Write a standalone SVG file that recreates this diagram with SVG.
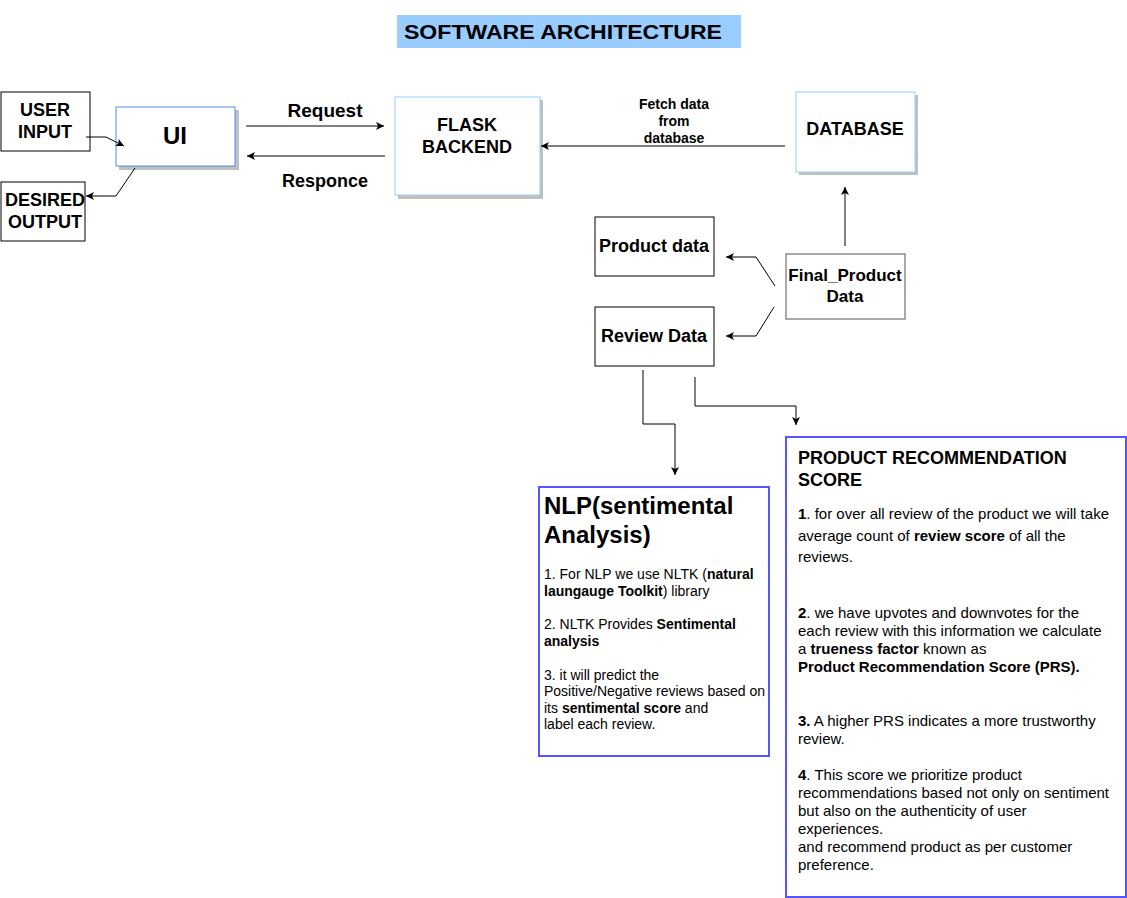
<svg xmlns="http://www.w3.org/2000/svg" width="1127" height="898" viewBox="0 0 1127 898">
<defs>
<marker id="arr" markerWidth="10" markerHeight="8" refX="8" refY="4" orient="auto" markerUnits="userSpaceOnUse">
<path d="M0,0 L8,4 L0,8 L2,4 Z" fill="#000"/>
</marker>
<style>
text{font-family:"Liberation Sans",Arial,sans-serif;fill:#000}
.b{font-weight:bold}
.lbl{font-size:18px;font-weight:bold;text-anchor:middle}
.box{fill:#fff;stroke:#000;stroke-width:1}
.shadow{fill:#c0c0c0}
.conn{fill:none;stroke:#000;stroke-width:1}
.note{fill:#fff;stroke:#5555ff;stroke-width:2}
.body14{font-size:14px}
.body15{font-size:15px}
</style>
</defs>
<rect width="1127" height="898" fill="#fff"/>

<g id="title">
<rect x="397" y="15" width="344" height="33" fill="#99ccff"/>
<text x="404" y="39" font-size="21" font-weight="bold" textLength="318" lengthAdjust="spacingAndGlyphs" font-family="'Comic Sans MS','DejaVu Sans',sans-serif">SOFTWARE  ARCHITECTURE</text>
</g>

<g id="user-input">
<rect class="box" x="1" y="92" width="89" height="59"/>
<text class="lbl" x="45" y="116">USER</text>
<text class="lbl" x="45" y="138">INPUT</text>
</g>

<g id="ui">
<rect class="shadow" x="119" y="110" width="120" height="60"/>
<rect x="116" y="107" width="119" height="59" fill="#fff" stroke="#4a90e2" stroke-width="1"/>
<text x="175" y="144" font-size="24" font-weight="bold" text-anchor="middle">UI</text>
</g>

<g id="desired-output">
<rect class="box" x="1" y="182" width="84" height="59"/>
<text class="lbl" x="45" y="206">DESIRED</text>
<text class="lbl" x="45" y="228">OUTPUT</text>
</g>

<g id="flask-backend">
<rect class="shadow" x="398" y="100" width="145" height="99"/>
<rect x="395" y="97" width="145" height="98" fill="#fff" stroke="#99ccff" stroke-width="1"/>
<text class="lbl" x="467" y="131">FLASK</text>
<text class="lbl" x="467" y="153">BACKEND</text>
</g>

<g id="database">
<rect class="shadow" x="799" y="95" width="119" height="80"/>
<rect x="796" y="92" width="119" height="80" fill="#fff" stroke="#99ccff" stroke-width="1"/>
<text class="lbl" x="855" y="135">DATABASE</text>
</g>

<g id="final-product-data">
<rect x="786" y="254" width="119" height="65" fill="#fff" stroke="#555" stroke-width="1"/>
<text x="845" y="281" font-size="17" font-weight="bold" text-anchor="middle">Final_Product</text>
<text x="845" y="302" font-size="17" font-weight="bold" text-anchor="middle">Data</text>
</g>

<g id="product-data">
<rect class="box" x="595" y="217" width="119" height="59"/>
<text x="654" y="252" font-size="18" font-weight="bold" text-anchor="middle">Product data</text>
</g>

<g id="review-data">
<rect class="box" x="595" y="307" width="119" height="59"/>
<text x="654" y="342" font-size="18" font-weight="bold" text-anchor="middle">Review Data</text>
</g>

<g id="nlp">
<rect class="note" x="539" y="487" width="230" height="269"/>
<text x="544" y="514" font-size="24" font-weight="bold">NLP(sentimental</text>
<text x="544" y="543" font-size="24" font-weight="bold">Analysis)</text>
<text class="body14" x="544" y="579">1. For NLP we use NLTK (<tspan class="b">natural</tspan></text>
<text class="body14" x="544" y="596"><tspan class="b">laungauge Toolkit</tspan>) library</text>
<text class="body14" x="544" y="629">2. NLTK Provides <tspan class="b">Sentimental</tspan></text>
<text class="body14" x="544" y="646"><tspan class="b">analysis</tspan></text>
<text class="body14" x="544" y="680">3. it will predict the</text>
<text class="body14" x="544" y="696">Positive/Negative reviews based on</text>
<text class="body14" x="544" y="713">its <tspan class="b">sentimental score</tspan> and</text>
<text class="body14" x="544" y="729">label each review.</text>
</g>

<g id="prs">
<rect class="note" x="786" y="437" width="340" height="460"/>
<text x="798" y="464" font-size="18" font-weight="bold">PRODUCT RECOMMENDATION</text>
<text x="798" y="486" font-size="18" font-weight="bold">SCORE</text>
<text class="body15" x="798" y="519"><tspan class="b">1</tspan>. for over all review of the product we will take</text>
<text class="body15" x="798" y="541">average count of <tspan class="b">review score</tspan> of all the</text>
<text class="body15" x="798" y="562">reviews.</text>
<text class="body15" x="798" y="618"><tspan class="b">2</tspan>. we have upvotes and downvotes for the</text>
<text class="body15" x="798" y="636">each review with this information we calculate</text>
<text class="body15" x="798" y="654">a <tspan class="b">trueness factor</tspan> known as</text>
<text class="body15 b" x="798" y="672">Product Recommendation Score (PRS).</text>
<text class="body15" x="798" y="726"><tspan class="b">3.</tspan> A higher PRS indicates a more trustworthy</text>
<text class="body15" x="798" y="744">review.</text>
<text class="body15" x="798" y="780"><tspan class="b">4</tspan>. This score we prioritize product</text>
<text class="body15" x="798" y="798">recommendations based not only on sentiment</text>
<text class="body15" x="798" y="816">but also on the authenticity of user</text>
<text class="body15" x="798" y="834">experiences.</text>
<text class="body15" x="798" y="852">and recommend product as per customer</text>
<text class="body15" x="798" y="870">preference.</text>
</g>

<g id="connectors">
<polyline class="conn" points="86,137 106,137 124,146" marker-end="url(#arr)"/>
<polyline class="conn" points="135,168 116,196 86,196" marker-end="url(#arr)"/>
<line class="conn" x1="246" y1="126" x2="384" y2="126" marker-end="url(#arr)"/>
<line class="conn" x1="385" y1="156" x2="247" y2="156" marker-end="url(#arr)"/>
<line class="conn" x1="785" y1="146" x2="541" y2="146" marker-end="url(#arr)"/>
<line class="conn" x1="845" y1="246" x2="845" y2="187" marker-end="url(#arr)"/>
<polyline class="conn" points="775,286 756,257 726,257" marker-end="url(#arr)"/>
<polyline class="conn" points="774,307 756,336 726,336" marker-end="url(#arr)"/>
<polyline class="conn" points="643,370 643,424 675,424 675,475" marker-end="url(#arr)"/>
<polyline class="conn" points="695,377 695,406 796,406 796,425" marker-end="url(#arr)"/>
<text x="325" y="117" font-size="19" font-weight="bold" text-anchor="middle">Request</text>
<text class="lbl" x="325" y="187">Responce</text>
<text x="674" y="109" font-size="14" font-weight="bold" text-anchor="middle">Fetch data</text>
<text x="674" y="126" font-size="14" font-weight="bold" text-anchor="middle">from</text>
<text x="674" y="143" font-size="14" font-weight="bold" text-anchor="middle">database</text>
</g>
</svg>
